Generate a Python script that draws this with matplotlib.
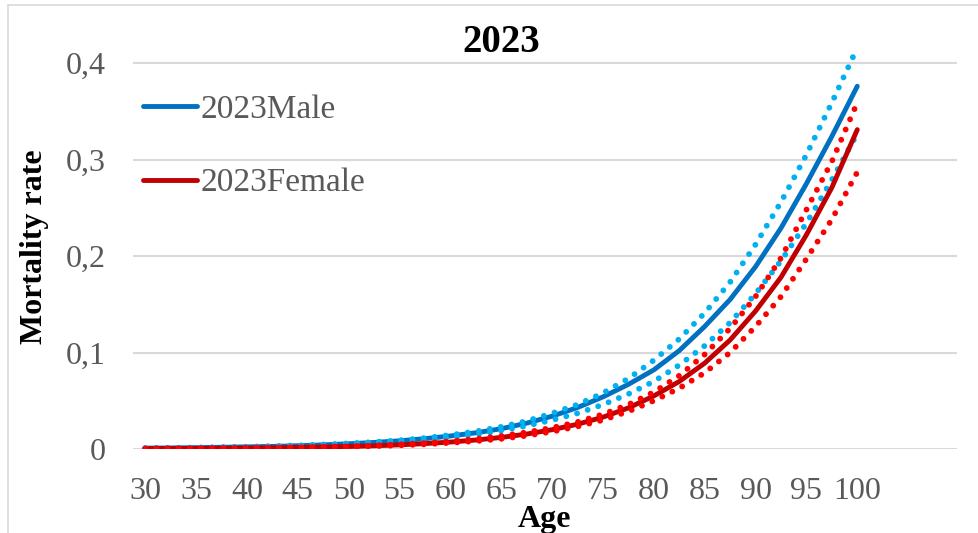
import matplotlib.pyplot as plt
from matplotlib.patches import Rectangle
from matplotlib.ticker import FuncFormatter

# Ages (every 2.5 years)
ages = [30, 32.5, 35, 37.5, 40, 42.5, 45, 47.5, 50, 52.5, 55, 57.5, 60, 62.5, 65,
        67.5, 70, 72.5, 75, 77.5, 80, 82.5, 85, 87.5, 90, 92.5, 95, 97.5, 100]

# Male central estimate and bounds
male = [0.0009, 0.0011, 0.0014, 0.0018, 0.0022, 0.0027, 0.0034, 0.0043, 0.0054, 0.0068,
        0.0085, 0.0107, 0.0135, 0.0168, 0.021, 0.0268, 0.034, 0.043, 0.054, 0.067,
        0.082, 0.102, 0.127, 0.155, 0.189, 0.229, 0.275, 0.324, 0.376]
male_upper = [0.001, 0.0012, 0.0015, 0.0019, 0.0024, 0.003, 0.0037, 0.0046, 0.0058, 0.0072,
              0.009, 0.0114, 0.0145, 0.0182, 0.023, 0.029, 0.037, 0.046, 0.058, 0.073,
              0.092, 0.114, 0.141, 0.173, 0.212, 0.256, 0.305, 0.359, 0.416]
male_lower = [0.0008, 0.001, 0.0012, 0.0015, 0.002, 0.0024, 0.003, 0.0038, 0.0048, 0.006,
              0.0076, 0.0095, 0.012, 0.015, 0.019, 0.024, 0.030, 0.037, 0.046, 0.057,
              0.070, 0.087, 0.107, 0.131, 0.161, 0.195, 0.234, 0.279, 0.327]

# Female central estimate and bounds
female = [0.0004, 0.0005, 0.0006, 0.0008, 0.001, 0.0013, 0.0016, 0.002, 0.0026, 0.0033,
          0.0043, 0.0056, 0.0072, 0.0093, 0.012, 0.0155, 0.020, 0.0257, 0.033, 0.0426,
          0.055, 0.070, 0.089, 0.113, 0.143, 0.178, 0.222, 0.271, 0.331]
female_upper = [0.00045, 0.00055, 0.0007, 0.0009, 0.0011, 0.0014, 0.0018, 0.0023, 0.0029, 0.0037,
                0.0048, 0.0062, 0.008, 0.0104, 0.0135, 0.0173, 0.022, 0.028, 0.036, 0.046,
                0.059, 0.076, 0.098, 0.125, 0.158, 0.198, 0.248, 0.298, 0.359]
female_lower = [0.00035, 0.0004, 0.0005, 0.0007, 0.0009, 0.0011, 0.0014, 0.0018, 0.0023, 0.003,
                0.0038, 0.0049, 0.0064, 0.0082, 0.0105, 0.0138, 0.018, 0.0233, 0.030, 0.039,
                0.050, 0.063, 0.079, 0.100, 0.127, 0.158, 0.197, 0.238, 0.287]

xticks = list(range(30, 101, 5))
yticks = [0, 0.1, 0.2, 0.3, 0.4]

plt.rcParams['font.family'] = ['Liberation Serif', 'DejaVu Serif']

fig = plt.figure(figsize=(9.79, 5.33), dpi=100)
ax = fig.add_axes([0.1359, 0.1576, 0.8416, 0.7784])

dot = (0, (0.01, 1.9))
blue, lblue = '#0070C0', '#00B0F0'
red, lred = '#C00000', '#FF0000'

ax.plot(ages, male, color=blue, lw=3.5, solid_capstyle='round', label='2023Male')
ax.plot(ages, male_upper, color=lblue, lw=4.2, linestyle=dot, dash_capstyle='round')
ax.plot(ages, male_lower, color=lblue, lw=4.2, linestyle=dot, dash_capstyle='round')
ax.plot(ages, female, color=red, lw=3.5, solid_capstyle='round', label='2023Female')
ax.plot(ages, female_upper, color=lred, lw=4.2, linestyle=dot, dash_capstyle='round')
ax.plot(ages, female_lower, color=lred, lw=4.2, linestyle=dot, dash_capstyle='round')

ax.set_xlim(28.8, 109.8)
ax.set_ylim(0, 0.43)
ax.set_xticks(xticks)
ax.set_yticks(yticks)
ax.yaxis.set_major_formatter(FuncFormatter(lambda v, p: '0' if v == 0 else f'{v:.1f}'.replace('.', ',')))
ax.tick_params(length=0, labelsize=23, labelcolor='#595959')
ax.tick_params(axis='y', pad=20)
ax.tick_params(axis='x', pad=20)

ax.grid(axis='y', color='#D9D9D9', lw=1.5)
ax.set_axisbelow(True)
for s in ax.spines.values():
    s.set_visible(False)

fig.text(501 / 979, 1 - 42 / 533, '2023', fontsize=28, fontweight='bold', ha='center', va='center')
fig.text(545 / 979, 1 - 519 / 533, 'Age', fontsize=23, fontweight='bold', ha='center', va='center')
fig.text(35 / 979, 1 - 247 / 533, 'Mortality rate', fontsize=23, fontweight='bold',
         rotation=90, ha='center', va='center')

leg = ax.legend(loc='upper left', bbox_to_anchor=(143 / 979, 1 - 94 / 533),
                bbox_transform=fig.transFigure, frameon=False, borderpad=0, borderaxespad=0,
                fontsize=24, handlelength=1.62, handletextpad=0.1, labelspacing=1.3,
                labelcolor='#595959')
for h in leg.get_lines():
    h.set_linewidth(3.5)

fig.patches.append(Rectangle((8 / 979, -0.1), 1.2, 1.1 - 5 / 533, transform=fig.transFigure,
                             fill=False, edgecolor='#D9D9D9', lw=1.2))

fig.savefig('out.png', dpi=100)
